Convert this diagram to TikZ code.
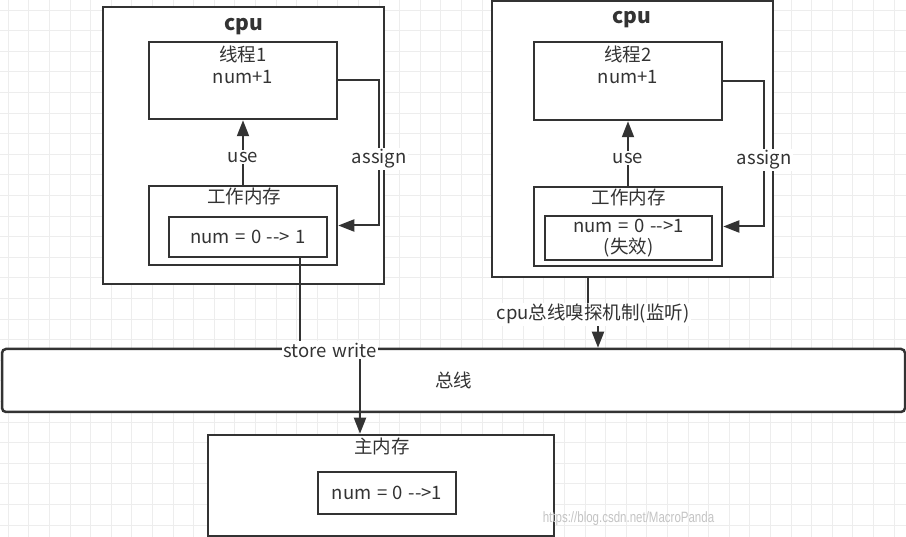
\documentclass[tikz,border=0pt]{standalone}
\usepackage{fontspec}
\setmainfont{Noto Sans CJK SC}[WordSpace=1.35]
\newfontfamily\wmfont{Liberation Sans}
\usetikzlibrary{arrows.meta,calc}
\definecolor{ink}{HTML}{333333}
\definecolor{gridc}{HTML}{EDEDED}
\definecolor{wmc}{HTML}{C4C4C4}
\begin{document}
\begin{tikzpicture}[x=1pt,y=-1pt,
  box/.style={draw=ink, line width=2.5pt, fill=white, inner sep=0pt, text=ink,
              font=\fontsize{18.5}{21}\selectfont, align=center},
  txt/.style={text=ink, font=\fontsize{18.5}{22}\selectfont, inner sep=0pt, align=center},
  cputxt/.style={text=ink, font=\fontsize{21}{22}\selectfont\bfseries, inner sep=0pt},
  arr/.style={draw=ink, line width=2pt, -{Triangle[length=16pt,width=12pt]}},
  lbl/.style={fill=white, text=ink, font=\fontsize{18.5}{22}\selectfont, inner sep=1.5pt},
  gridline/.style={draw=gridc, line width=0.9pt},
  wm/.style={text=wmc, font=\wmfont\fontsize{11.5}{14}\selectfont, inner sep=0pt}
]
\fill[white] (0,0) rectangle (906,537);
\useasboundingbox (0,0) rectangle (906,537);
% background grid
\foreach \i in {0,...,43} \draw[gridline] ({8.3+20.6*\i},0) -- ({8.3+20.6*\i},537);
\foreach \j in {0,...,25} \draw[gridline] (0,{10+20.6*\j}) -- (906,{10+20.6*\j});

% CPU 1
\node[box, minimum width=281pt, minimum height=277pt] (cpu1) at (243.5,145.5) {};
\node[cputxt] (cpu1t) at ($(cpu1.north)+(0.5,20.5)$) {cpu};
\node[box, minimum width=188pt, minimum height=77pt] (t1) at (243,80.5) {};
\node[txt] (t1t) at ($(t1.north)+(0,24)$) {线程1\\num+1};
\node[box, minimum width=188pt, minimum height=79pt] (wm1) at (243,225.5) {};
\node[txt] (wm1t) at ($(wm1.north)+(1,12)$) {工作内存};
\node[box, minimum width=158pt, minimum height=40pt] (in1) at (248,237) {num = 0 -{}-> 1};

% CPU 2
\node[box, minimum width=281pt, minimum height=276pt] (cpu2) at (632.5,139) {};
\node[cputxt] (cpu2t) at ($(cpu2.north)+(-1,20)$) {cpu};
\node[box, minimum width=188pt, minimum height=78pt] (t2) at (628,81) {};
\node[txt] (t2t) at ($(t2.north)+(0,24)$) {线程2\\num+1};
\node[box, minimum width=188pt, minimum height=79pt] (wm2) at (628,226.5) {};
\node[txt] (wm2t) at ($(wm2.north)+(0.5,11.5)$) {工作内存};
\node[box, minimum width=167pt, minimum height=44pt] (in2) at (628.5,238) {num = 0 -{}->1\\(失效)};

% bus
\node[box, rounded corners=4pt, minimum width=903pt, minimum height=63pt] (bus) at (453.5,380.5) {总线};

% main memory
\node[box, minimum width=346pt, minimum height=101pt] (mm) at (381,485.5) {};
\node[txt] (mmt) at ($(mm.north)+(1,13)$) {主内存};
\node[box, minimum width=138pt, minimum height=42pt] (mmin) at (387,493) {num = 0 -{}->1};

% connectors cpu 1
\draw[arr] (wm1.north) -- node[lbl, pos=0.43] (use1) {use} (t1.south);
\draw[arr] (t1.east) -- ++(41,0) |- node[lbl, pos=0.27] (as1) {assign} (wm1.east);

% connectors cpu 2
\draw[arr] (wm2.north) -- node[lbl, pos=0.43] (use2) {use} (t2.south);
\draw[arr] (t2.east) -- ++(41,0) |- node[lbl, pos=0.27] (as2) {assign} (wm2.east);

% store write
\draw[arr] ($(in1.south)+(52,0)$) -- ++(0,92) -- node[lbl] (sw) {store write} ++(60,0)
  -- ($(mm.north)+(-21,0)$);

% bus snooping
\draw[arr] ($(cpu2.south)+(-44.5,0)$) -- ++(0,36) -- node[lbl] (snoop) {cpu总线嗅探机制(监听)} ++(10,0)
  -- ($(bus.north)+(144.5,0)$);

% watermark
\node[wm] (wmark) at (628.5,519) {\scalebox{1}[1.3]{https://blog.csdn.net/MacroPanda}};
\end{tikzpicture}
\end{document}
